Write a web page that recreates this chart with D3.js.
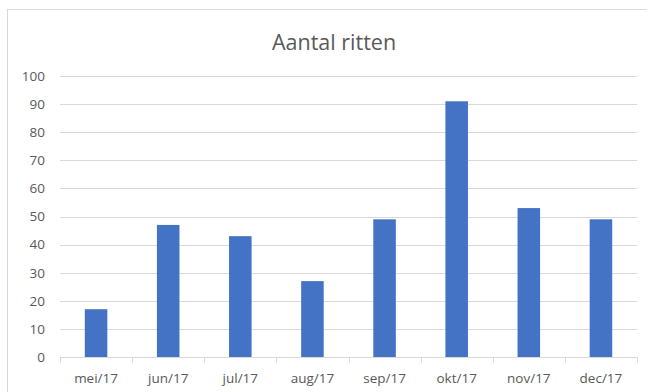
<!DOCTYPE html>
<html>
<head>
<meta charset="utf-8">
<script src="https://cdn.jsdelivr.net/npm/d3@7"></script>
<style>
  html, body { margin: 0; padding: 0; background: #fff; }
  svg { display: block; }
  text { font-family: "Open Sans", "Noto Sans", sans-serif; fill: #595959; }
</style>
</head>
<body>
<svg id="chart" width="647" height="392"></svg>
<script>
// Monthly ride counts
const categories = ["mei/17", "jun/17", "jul/17", "aug/17", "sep/17", "okt/17", "nov/17", "dec/17"];
const values = [17, 47, 43, 27, 49, 91, 53, 49];
const yTicks = [0, 10, 20, 30, 40, 50, 60, 70, 80, 90, 100];
const title = "Aantal ritten";

const svg = d3.select("#chart");
const x0 = 60, x1 = 637;
const yTop = 76, yBase = 357;

// Chart area frame (extends past the right and bottom edges)
svg.append("rect")
  .attr("x", 7.5).attr("y", 9.5)
  .attr("width", 700).attr("height", 500)
  .attr("fill", "#fff").attr("stroke", "#d9d9d9").attr("stroke-width", 1);

const x = d3.scaleBand().domain(categories).range([x0, x1]).paddingInner(0.6875).paddingOuter(0.34375);
const xBand = d3.scaleBand().domain(categories).range([x0, x1]);
const y = d3.scaleLinear().domain([0, 100]).range([yBase, yTop]);

// Horizontal gridlines
svg.append("g")
  .selectAll("line")
  .data(yTicks.filter(d => d > 0))
  .join("line")
  .attr("x1", x0).attr("x2", x1)
  .attr("y1", d => Math.round(y(d)) + 0.5)
  .attr("y2", d => Math.round(y(d)) + 0.5)
  .attr("stroke", "#d9d9d9").attr("stroke-width", 1);

// Y axis labels
const yAxis = d3.axisLeft(y).tickValues(yTicks).tickSize(0).tickPadding(0);
const gy = svg.append("g").attr("transform", `translate(45,0)`).call(yAxis);
gy.select(".domain").remove();
gy.selectAll("text")
  .attr("font-size", 13.5)
  .attr("fill", "#595959")
  .style("font-family", '"Open Sans", sans-serif');

// Bars
svg.append("g")
  .selectAll("rect")
  .data(values)
  .join("rect")
  .attr("x", (d, i) => x(categories[i]))
  .attr("width", x.bandwidth())
  .attr("y", d => y(d))
  .attr("height", d => yBase - y(d))
  .attr("fill", "#4472c4");

// Category axis: baseline, boundary ticks and labels
const bounds = categories.map(c => xBand(c)).concat([x1]);
svg.append("line")
  .attr("x1", x0).attr("x2", x1)
  .attr("y1", yBase + 0.5).attr("y2", yBase + 0.5)
  .attr("stroke", "#d9d9d9").attr("stroke-width", 1);
svg.append("g")
  .selectAll("line")
  .data(bounds)
  .join("line")
  .attr("x1", d => Math.round(d) + 0.5).attr("x2", d => Math.round(d) + 0.5)
  .attr("y1", yBase).attr("y2", yBase + 6)
  .attr("stroke", "#d9d9d9").attr("stroke-width", 1);

const xAxis = d3.axisBottom(xBand).tickSize(0).tickPadding(0);
const gx = svg.append("g").attr("transform", `translate(0,${yBase})`).call(xAxis);
gx.select(".domain").remove();
gx.selectAll("text")
  .attr("dy", null)
  .attr("y", 26)
  .attr("font-size", 13.5)
  .attr("fill", "#595959")
  .style("font-family", '"Open Sans", sans-serif');

// Title
svg.append("text")
  .attr("x", 334).attr("y", 50)
  .attr("text-anchor", "middle")
  .attr("font-size", 21.5)
  .text(title);
</script>
</body>
</html>
